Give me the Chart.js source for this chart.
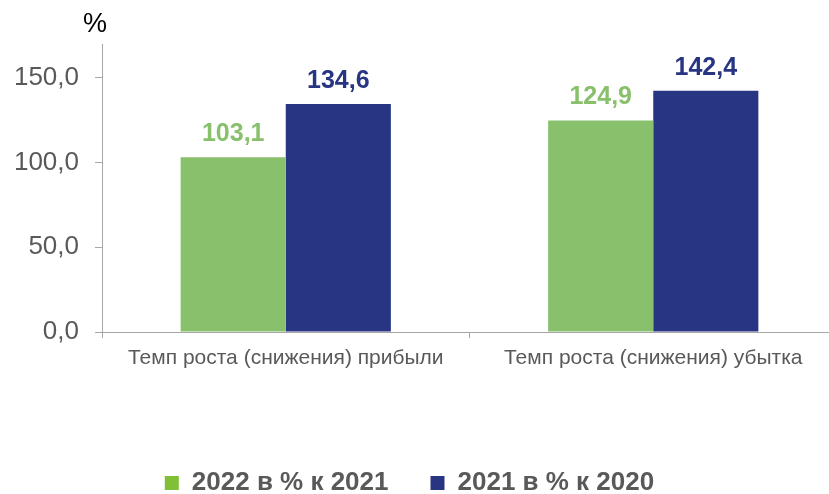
<!DOCTYPE html>
<html>
<head>
<meta charset="utf-8">
<script src="https://cdn.jsdelivr.net/npm/chart.js@4"></script>
<style>
  html, body { margin: 0; padding: 0; background: #fff; overflow: hidden; }
  #wrap { position: absolute; left: -18px; top: 0; width: 855px; height: 494px; }
</style>
</head>
<body>
<div id="wrap"><canvas id="chart"></canvas></div>
<script>
const categories = ["Темп роста (снижения) прибыли", "Темп роста (снижения) убытка"];
const seriesNames = ["2022 в % к 2021", "2021 в % к 2020"];
const values2022 = [103.1, 124.9];
const values2021 = [134.6, 142.4];
const barColors = ["#88c06c", "#283583"];
const legendColors = ["#80c036", "#283583"];
const yTicks = [0, 50, 100, 150];

const fmt = (v) => v.toFixed(1).replace(".", ",");
const FONT = "'Liberation Sans', Arial, sans-serif";

// values above the bars
const valueLabels = {
  id: "valueLabels",
  afterDatasetsDraw(chart) {
    const ctx = chart.ctx;
    ctx.save();
    ctx.font = "bold 25px " + FONT;
    ctx.textAlign = "center";
    ctx.textBaseline = "alphabetic";
    chart.data.datasets.forEach((ds, i) => {
      const meta = chart.getDatasetMeta(i);
      ctx.fillStyle = ds.backgroundColor;
      meta.data.forEach((bar, j) => {
        ctx.fillText(fmt(ds.data[j]), bar.x, bar.y - 16);
      });
    });
    ctx.restore();
  },
};

// "%" unit above the y axis
const unitLabel = {
  id: "unitLabel",
  afterDraw(chart) {
    const ctx = chart.ctx;
    ctx.save();
    ctx.font = "27px " + FONT;
    ctx.fillStyle = "#000";
    ctx.textAlign = "center";
    ctx.textBaseline = "alphabetic";
    ctx.fillText("%", chart.chartArea.left - 7, 32);
    ctx.restore();
  },
};

const config = {
  type: "bar",
  data: {
    labels: categories,
    datasets: [
      {
        label: seriesNames[0],
        data: values2022,
        backgroundColor: barColors[0],
        barPercentage: 1,
        categoryPercentage: 0.572,
      },
      {
        label: seriesNames[1],
        data: values2021,
        backgroundColor: barColors[1],
        barPercentage: 1,
        categoryPercentage: 0.572,
      },
    ],
  },
  options: {
    responsive: true,
    maintainAspectRatio: false,
    animation: false,
    layout: { padding: { top: 44, right: 0, left: 0, bottom: 0 } },
    plugins: {
      tooltip: { enabled: false },
      legend: {
        position: "bottom",
        maxHeight: 66,
        labels: {
          boxWidth: 14,
          boxHeight: 14,
          padding: 42,
          color: "#595959",
          font: { family: FONT, size: 26, weight: "bold" },
          generateLabels(chart) {
            return chart.data.datasets.map((ds, i) => ({
              text: ds.label,
              fillStyle: legendColors[i],
              strokeStyle: legendColors[i],
              lineWidth: 0,
              fontColor: "#595959",
              datasetIndex: i,
            }));
          },
        },
      },
    },
    scales: {
      x: {
        grid: {
          drawOnChartArea: false,
          drawTicks: true,
          tickLength: 6,
          color: "#a6a6a6",
        },
        border: { color: "#a6a6a6", width: 1 },
        ticks: {
          color: "#595959",
          padding: 8,
          font: { family: FONT, size: 21 },
          maxRotation: 0,
        },
        afterFit(scale) {
          scale.height = 96;
        },
      },
      y: {
        min: 0,
        max: 170,
        grid: {
          drawOnChartArea: false,
          drawTicks: true,
          tickLength: 7,
          color: "#a6a6a6",
        },
        border: { color: "#a6a6a6", width: 1 },
        ticks: {
          stepSize: 50,
          color: "#595959",
          padding: 16,
          font: { family: FONT, size: 26 },
          callback: (v) => fmt(v),
        },
        afterBuildTicks(scale) {
          scale.ticks = yTicks.map((v) => ({ value: v }));
        },
        afterFit(scale) {
          scale.width = 120;
        },
      },
    },
  },
  plugins: [valueLabels, unitLabel],
};

new Chart(document.getElementById("chart"), config);
</script>
</body>
</html>
